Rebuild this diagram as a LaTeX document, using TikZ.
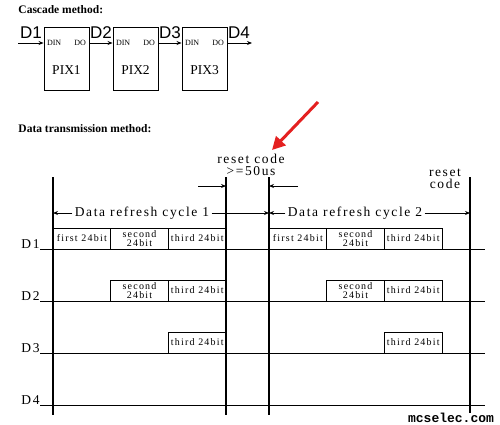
\documentclass[tikz,border=0pt]{standalone}
\usepackage{fontspec}
\setmainfont{Liberation Serif}
\newfontfamily\widefont[LetterSpace=12]{Liberation Serif}
\newfontfamily\dsans{Liberation Sans}
\newfontfamily\markfont{Liberation Mono}
\usepackage{xcolor}
\usepackage{tikz}
\usetikzlibrary{arrows.meta, positioning}
\definecolor{pointred}{RGB}{228,32,32}

\begin{document}
\begin{tikzpicture}[x=1pt, y=-1pt, line width=0.9pt,
    pix/.style={draw, minimum width=45pt, minimum height=63pt, inner sep=0pt},
    pin/.style={inner sep=3pt, font=\fontsize{8}{8}\selectfont},
    bitbox/.style={draw, anchor=south west, outer sep=0pt, inner sep=0pt,
        minimum width=57.7pt, minimum height=21pt, align=center,
        font=\widefont\fontsize{10}{8.5}\selectfont},
    tlabel/.style={inner sep=0pt, align=center, font=\widefont\fontsize{13.5}{12}\selectfont},
    sig/.style={anchor=base east, inner sep=0pt, font=\widefont\fontsize{13.5}{13}\selectfont},
    tip/.style={-{Stealth[length=5pt,width=4pt]}}]
\useasboundingbox (0,0) rectangle (500,425);

% cascade
\node[anchor=west, inner sep=0pt, font=\bfseries\fontsize{11.5}{12}\selectfont] (title1) at (18,10) {Cascade method:};
\node[pix] (pix1) at (66.5,58.5) {};
\node[pix] (pix2) at (135.5,58.5) {};
\node[pix] (pix3) at (204.5,58.5) {};
\coordinate (in1) at (18,43);
\coordinate (out1) at (252,43);
\foreach \i in {1,2,3} {
    \node[pin, anchor=west] (din\i) at (pix\i.west |- in1) {DIN};
    \node[pin, anchor=east] (do\i) at (pix\i.east |- in1) {DO};
    \node[font=\fontsize{13.5}{14}\selectfont] (name\i) at ([yshift=-11.5pt]pix\i.center) {PIX\i};
}
\draw[tip] (in1) -- (in1 -| pix1.west);
\draw[tip] (in1 -| pix1.east) -- (in1 -| pix2.west);
\draw[tip] (in1 -| pix2.east) -- (in1 -| pix3.west);
\draw[tip] (in1 -| pix3.east) -- (out1);
\node[font=\dsans\fontsize{17}{17}\selectfont, inner sep=0pt] (l1) at (31,33) {D1};
\node[font=\dsans\fontsize{17}{17}\selectfont, inner sep=0pt] (l2) at (101,33) {D2};
\node[font=\dsans\fontsize{17}{17}\selectfont, inner sep=0pt] (l3) at (170,33) {D3};
\node[font=\dsans\fontsize{17}{17}\selectfont, inner sep=0pt] (l4) at (239,33) {D4};

% transmission
\node[anchor=west, inner sep=0pt, font=\bfseries\fontsize{11.5}{12}\selectfont] (title2) at (18,129) {Data transmission method:};
\coordinate (rs) at (318,102);
\coordinate (re) at (272,150);
\draw[pointred, line width=3pt, -{Triangle[length=13pt,width=13pt]}] (rs) -- (re);

\coordinate (v1t) at (53,177);   \coordinate (v1b) at (53,415);
\coordinate (v2t) at (226,177);  \coordinate (v2b) at (226,415);
\coordinate (v3t) at (269,177);  \coordinate (v3b) at (269,415);
\coordinate (v4t) at (470,177);  \coordinate (v4b) at (470,413);
\draw[line width=1.1pt] (v1t) -- (v1b);
\draw[line width=1.1pt] (v2t) -- (v2b);
\draw[line width=1.1pt] (v3t) -- (v3b);
\draw[line width=1.1pt] (v4t) -- (v4b);

\node[tlabel] (reset1) at (251,165) {reset code\\>=50us};
\node[tlabel] (reset2) at (445,179) {reset\\code};
\coordinate (g1) at (198,186);
\coordinate (g2) at (298,186);
\draw[tip] (g1) -- (g1 -| v2t);
\draw[tip] (g2) -- (g2 -| v3t);

\node[tlabel, inner xsep=2pt] (cyc1) at (142,213) {Data refresh cycle 1};
\node[tlabel, inner xsep=2pt] (cyc2) at (355,213) {Data refresh cycle 2};
\draw[tip] (cyc1.west) -- (cyc1.west -| v1t);
\draw[tip] (cyc1.east) -- (cyc1.east -| v3t);
\draw[tip] (cyc2.west) -- (cyc2.west -| v3t);
\draw[tip] (cyc2.east) -- (cyc2.east -| v4t);

% signal lines
\foreach \n/\y in {1/249, 2/301, 3/353, 4/405} {
    \coordinate (s\n a) at (40,\y);
    \coordinate (s\n b) at (485,\y);
    \node[sig] (d\n) at (40,\y-1) {D\n};
    \draw (s\n a) -- (s\n b);
}

% D1
\node[bitbox] (a1) at (s1a -| v1t) {first 24bit};
\node[bitbox, right=0pt of a1] (a2) {second\\24bit};
\node[bitbox, right=0pt of a2] (a3) {third 24bit};
\node[bitbox] (b1) at (s1a -| v3t) {first 24bit};
\node[bitbox, right=0pt of b1] (b2) {second\\24bit};
\node[bitbox, right=0pt of b2] (b3) {third 24bit};
% D2
\node[bitbox] (a4) at (s2a -| a2.west) {second\\24bit};
\node[bitbox, right=0pt of a4] (a5) {third 24bit};
\node[bitbox] (b4) at (s2a -| b2.west) {second\\24bit};
\node[bitbox, right=0pt of b4] (b5) {third 24bit};
% D3
\node[bitbox] (a6) at (s3a -| a3.west) {third 24bit};
\node[bitbox] (b6) at (s3a -| b3.west) {third 24bit};

\node[font=\markfont\bfseries\fontsize{13}{13}\selectfont, inner sep=0pt] (mark) at (451,418) {mcselec.com};
\end{tikzpicture}
\end{document}
